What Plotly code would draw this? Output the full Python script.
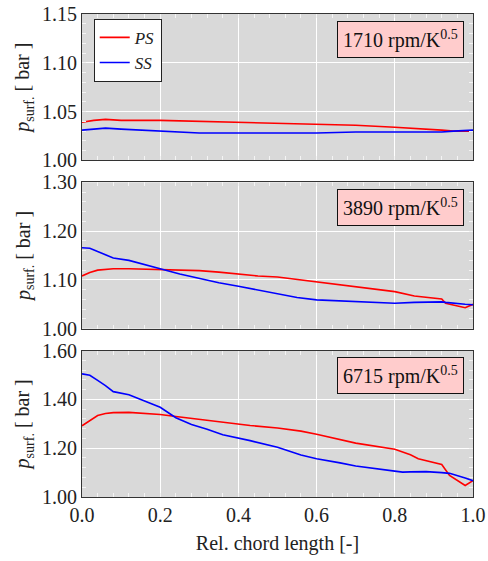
import plotly.graph_objects as go
from plotly.subplots import make_subplots

# ---- data ----
x1 = [0, 0.03, 0.06, 0.1, 0.2, 0.3, 0.43, 0.5, 0.6, 0.7, 0.8, 0.9, 0.92, 0.95, 1.0]
ps1 = [1.039, 1.041, 1.042, 1.041, 1.041, 1.040, 1.038, 1.038, 1.037, 1.036, 1.034, 1.032, 1.031, 1.030, 1.030]
ss1 = [1.031, 1.032, 1.033, 1.032, 1.030, 1.028, 1.028, 1.028, 1.028, 1.029, 1.029, 1.029, 1.029, 1.030, 1.031]

x2 = [0, 0.02, 0.04, 0.08, 0.12, 0.16, 0.2, 0.25, 0.3, 0.35, 0.4, 0.45, 0.5, 0.55, 0.6, 0.7, 0.8, 0.85, 0.88, 0.92, 0.93, 0.96, 0.98, 1.0]
ss2 = [1.166, 1.165, 1.158, 1.145, 1.140, 1.132, 1.123, 1.112, 1.103, 1.094, 1.087, 1.079, 1.071, 1.064, 1.059, 1.055, 1.052, 1.054, 1.055, 1.055, 1.054, 1.051, 1.050, 1.049]
ps2 = [1.108, 1.115, 1.120, 1.123, 1.123, 1.122, 1.121, 1.120, 1.119, 1.116, 1.112, 1.108, 1.106, 1.101, 1.096, 1.086, 1.076, 1.067, 1.064, 1.061, 1.052, 1.047, 1.043, 1.050]

x3 = [0, 0.02, 0.04, 0.06, 0.08, 0.12, 0.16, 0.2, 0.24, 0.28, 0.32, 0.36, 0.43, 0.5, 0.56, 0.6, 0.66, 0.7, 0.8, 0.82, 0.84, 0.86, 0.88, 0.92, 0.94, 0.98, 1.0]
ss3 = [1.505, 1.499, 1.478, 1.457, 1.432, 1.419, 1.394, 1.368, 1.325, 1.297, 1.278, 1.255, 1.231, 1.204, 1.172, 1.157, 1.140, 1.127, 1.106, 1.102, 1.103, 1.104, 1.104, 1.100, 1.097, 1.078, 1.067]
ps3 = [1.292, 1.314, 1.334, 1.342, 1.346, 1.347, 1.344, 1.338, 1.330, 1.322, 1.314, 1.307, 1.293, 1.283, 1.270, 1.257, 1.235, 1.221, 1.196, 1.185, 1.173, 1.157, 1.150, 1.133, 1.088, 1.047, 1.067]

speed_labels = ["1710", "3890", "6715"]
y_ranges = [(1.0, 1.15), (1.0, 1.30), (1.0, 1.60)]
y_dticks = [0.05, 0.1, 0.2]

panels = [(x1, ps1, ss1), (x2, ps2, ss2), (x3, ps3, ss3)]

FONT = "Liberation Serif, DejaVu Serif, serif"
fig = make_subplots(rows=3, cols=1, shared_xaxes=False, vertical_spacing=0.0455)

for i, (xx, ps, ss) in enumerate(panels):
    r = i + 1
    fig.add_trace(go.Scatter(x=xx, y=ps, mode="lines", line=dict(color="#ff0000", width=1.6),
                             name="<i>PS</i>", showlegend=(i == 0)), row=r, col=1)
    fig.add_trace(go.Scatter(x=xx, y=ss, mode="lines", line=dict(color="#0000ff", width=1.6),
                             name="<i>SS</i>", showlegend=(i == 0)), row=r, col=1)

axis_common = dict(showgrid=True, gridcolor="white", gridwidth=1, zeroline=False,
                   showline=True, linecolor="#333333", linewidth=1, mirror="allticks",
                   ticks="inside", ticklen=4, tickcolor="#f4f4f4", automargin=False,
                   tickfont=dict(family=FONT, size=20, color="#222"))

for i in range(3):
    r = i + 1
    fig.update_xaxes(range=[0, 1], dtick=0.2, tick0=0, tickformat=".1f",
                     showticklabels=(i == 2),
                     minor=dict(dtick=0.04, ticks="inside", ticklen=4, tickcolor="#f4f4f4", showgrid=False),
                     **axis_common, row=r, col=1)
    lo, hi = y_ranges[i]
    fig.update_yaxes(range=[lo, hi], dtick=y_dticks[i], tick0=1.0, tickformat=".2f",
                     minor=dict(dtick=y_dticks[i] / 5, ticks="inside", ticklen=4, tickcolor="#f4f4f4", showgrid=False),
                     title=dict(text="<i>p</i><sub>surf.</sub> [ bar ]", font=dict(family=FONT, size=20, color="#222"),
                                standoff=6),
                     **axis_common, row=r, col=1)
    xref = "x domain" if i == 0 else f"x{r} domain"
    yref = "y domain" if i == 0 else f"y{r} domain"
    fig.add_annotation(x=0.977, y=0.955, xref=xref, yref=yref, xanchor="right", yanchor="top",
                       text=f"{speed_labels[i]} rpm/K<sup>0.5</sup>", showarrow=False,
                       font=dict(family=FONT, size=20, color="#111"),
                       bgcolor="#ffcccc", bordercolor="#111", borderwidth=1, borderpad=5)

fig.update_xaxes(title=dict(text="Rel. chord length [-]", font=dict(family=FONT, size=20, color="#222"),
                            standoff=10), row=3, col=1)

fig.update_layout(
    width=488, height=561,
    margin=dict(l=82, r=15, t=14, b=64, autoexpand=False),
    plot_bgcolor="#d9d9d9", paper_bgcolor="white",
    font=dict(family=FONT, size=17, color="#222"),
    legend=dict(x=0.03, y=0.99, xanchor="left", yanchor="top", bgcolor="white",
                bordercolor="#222", borderwidth=1, font=dict(family=FONT, size=17),
                tracegroupgap=0, itemwidth=30),
)

fig.write_html("out.html")
